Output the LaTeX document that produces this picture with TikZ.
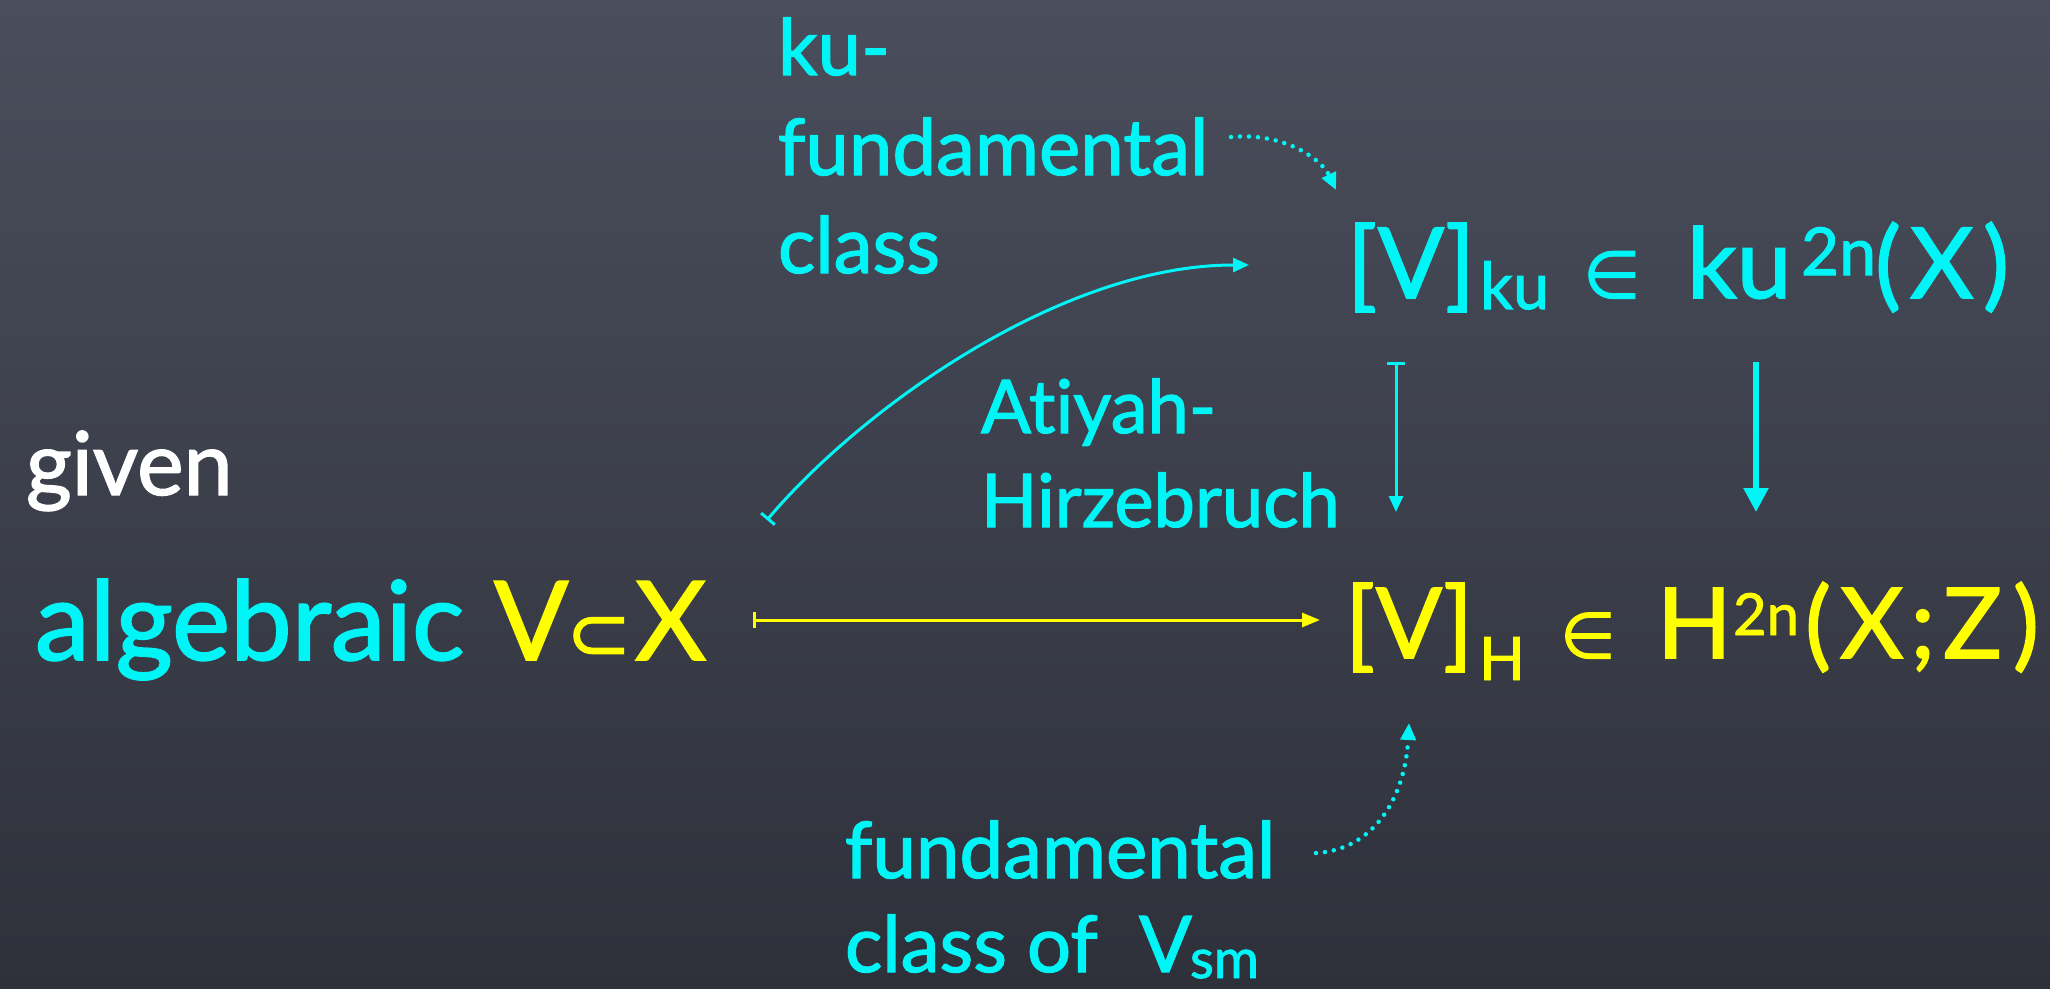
\documentclass[tikz,border=0pt]{standalone}
\usepackage{fontspec}
\setmainfont{Lato}[FakeBold=1.6, Ligatures={NoCommon,NoContextual,NoRare}]
\newfontfamily\symf{DejaVu Sans}[FakeBold=1.2]
\usetikzlibrary{arrows.meta}
\definecolor{chalkcyan}{RGB}{0,246,246}
\definecolor{chalkyellow}{RGB}{255,255,0}
\definecolor{boardtop}{RGB}{74,78,92}
\definecolor{boardbot}{RGB}{46,49,58}
\newcommand\fsz[1]{\fontsize{#1}{#1}\selectfont}
\begin{document}
\begin{tikzpicture}[x=1pt,y=-1pt,
  txt/.style={inner sep=0pt, outer sep=0pt, anchor=base west},
  cy/.style={text=chalkcyan},
  yl/.style={text=chalkyellow},
  tipS/.tip={Triangle[length=16pt,width=14pt]},
  mapsto/.style={draw=chalkcyan, line width=3pt, {Bar[width=18pt]}-{tipS}},
  thickarrow/.style={draw=chalkcyan, line width=5.5pt, -{Triangle[length=24pt,width=24pt]}},
  dotarrow/.style={draw=chalkcyan, line width=4.5pt, line cap=round, dash pattern=on 0pt off 9pt, -{Triangle[length=17pt,width=15pt]}},
  ymapsto/.style={draw=chalkyellow, line width=3pt, {Bar[width=16pt]}-{Triangle[length=18pt,width=14pt]}},
]
\shade[top color=boardtop, bottom color=boardbot] (0,0) rectangle (2050,988);
\useasboundingbox (0,0) rectangle (2050,988);

% top-left label
\node[txt, cy, font=\fsz{78}] (kulab) at (778,75) {ku-};
\node[txt, cy, font=\fsz{78}] (fundA) at (778,175) {fundamental};
\node[txt, cy, font=\fsz{78}] (classA) at (778,273) {class};

% top formula
\node[txt, cy, font=\fsz{98}] (topf) at (1347,298) {\makebox[133pt][l]{[V]}\raisebox{-11pt}{\makebox[103pt][l]{\fsz{65}ku}}\makebox[104pt][l]{\symf\fsz{66}∈}\makebox[114pt][l]{ku}\raisebox{23pt}{\makebox[74pt][l]{\fsz{66}2n}}\makebox[35pt][l]{(}\makebox[73pt][l]{X})};

% middle labels
\node[txt, cy, font=\fsz{74}] (atiyah) at (981,433) {Atiyah-};
\node[txt, cy, font=\fsz{74}] (hirz) at (981,527) {Hirzebruch};

\node[txt, text=white, font=\fsz{88}] (given) at (26,495) {given};

\node[txt, cy, font=\fsz{110}] (alg) at (35,660) {\makebox[459pt][l]{algebraic}\color{chalkyellow}\makebox[72pt][l]{V}\makebox[69pt][l]{\symf\fsz{78}⊂}X};

% bottom formula
\node[txt, yl, font=\fsz{98}] (botf) at (1345,658) {\makebox[134pt][l]{[V]}\raisebox{-22pt}{\makebox[81pt][l]{\fsz{60}H}}\makebox[97pt][l]{\symf\fsz{64}∈}\makebox[76pt][l]{H}\raisebox{23pt}{\makebox[72pt][l]{\fsz{58}2n}}\makebox[35pt][l]{(}\makebox[70pt][l]{X}\makebox[33pt][l]{;}\makebox[70pt][l]{Z})};

% bottom label
\node[txt, cy, font=\fsz{78}] (fundB) at (845,878) {fundamental};
\node[txt, cy, font=\fsz{78}] (classB) at (845,972) {\makebox[294pt][l]{class of}\makebox[51pt][l]{V}\raisebox{-6pt}{\fsz{55}sm}};

% connector end points
\coordinate (d1s) at (1231,137);
\coordinate (d1e) at (1336,190);
\coordinate (cvs) at (767,520);
\coordinate (cve) at (1249,265);
\coordinate (ahs) at (1396,362);
\coordinate (ahe) at (1396,512);
\coordinate (kus) at (1756,362);
\coordinate (kue) at (1756,512);
\coordinate (ys) at (753,620);
\coordinate (ye) at (1320,620);
\coordinate (d2s) at (1316,853);
\coordinate (d2e) at (1409,723);

\draw[dotarrow] (d1s) .. controls (1285,132) and (1322,160) .. (d1e);
\draw[mapsto] (cvs) .. controls (860,410) and (1060,265) .. (cve);
\draw[mapsto] (ahs) -- (ahe);
\draw[thickarrow] (kus) -- (kue);
\draw[ymapsto] (ys) -- (ye);
\draw[dotarrow] (d2s) .. controls (1372,850) and (1405,800) .. (d2e);
\end{tikzpicture}
\end{document}
